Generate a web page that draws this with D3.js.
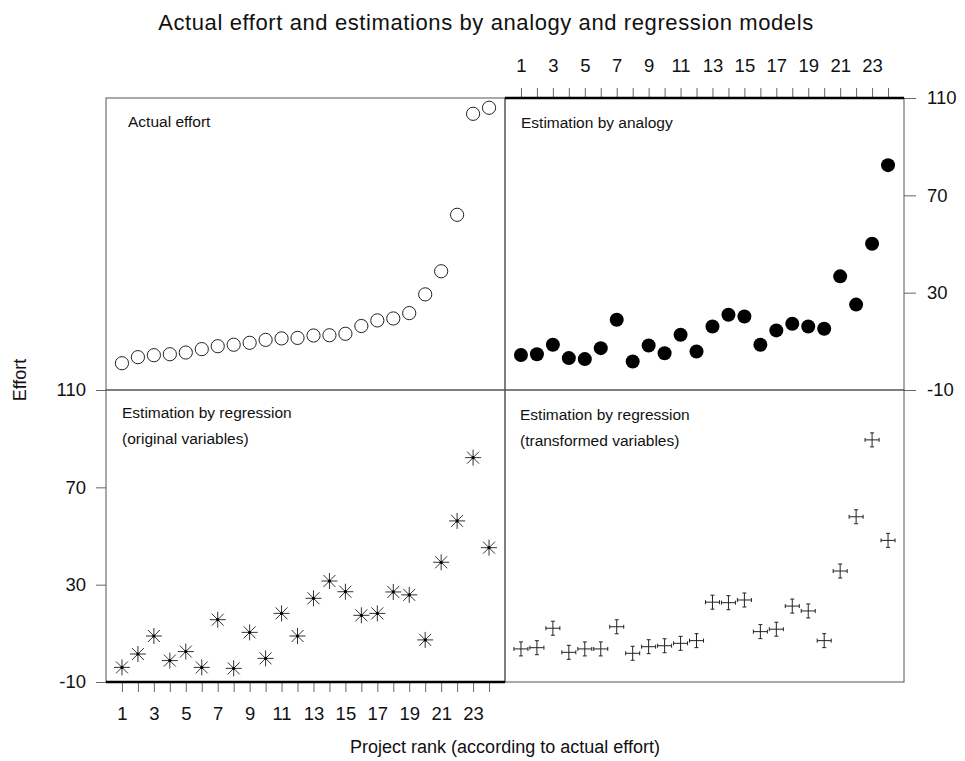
<!DOCTYPE html>
<html>
<head>
<meta charset="utf-8">
<script src="https://cdn.jsdelivr.net/npm/d3@7"></script>
<style>
  html, body { margin: 0; padding: 0; background: #fff; }
  svg { display: block; font-family: "Liberation Sans", Arial, sans-serif; }
  .tick text { font-family: "Liberation Sans", Arial, sans-serif; }
</style>
</head>
<body>
<svg id="chart" width="965" height="761"></svg>
<script>
// Project ranks 1..24 (ordered by actual effort)
const ranks = d3.range(1, 25);

// Effort values per project, one array per panel
const actualEffort = [1.0, 3.5, 4.3, 4.7, 5.4, 6.8, 8.0, 8.6, 9.4, 10.6, 11.2, 11.4,
  12.4, 12.5, 13.1, 16.3, 18.6, 19.4, 21.6, 29.3, 38.8, 62.0, 103.5, 106.0];
const analogyEstimate = [4.4, 4.7, 8.6, 3.1, 2.7, 7.2, 18.9, 1.7, 8.3, 5.1, 12.7, 5.8,
  16.1, 20.9, 20.2, 8.6, 14.5, 17.2, 16.1, 15.2, 36.7, 25.1, 50.1, 82.4];
const regressionOriginal = [-4.0, 1.5, 8.9, -1.2, 2.5, -4.0, 15.6, -4.4, 10.4, -0.3, 18.2, 8.9,
  24.4, 31.5, 27.1, 17.4, 18.2, 27.0, 25.8, 7.3, 39.2, 56.2, 82.2, 45.2];
const regressionTransformed = [3.6, 4.1, 12.1, 2.2, 3.6, 3.6, 12.7, 1.8, 4.5, 4.9, 5.9, 7.0,
  22.8, 22.6, 23.7, 10.7, 11.7, 21.2, 19.2, 7.0, 35.6, 57.9, 89.5, 48.2];

// Axis ticks
const yTicks = [-10, 30, 70, 110];
const xTicks = ranks;

// Text
const titleText = "Actual effort and estimations by analogy and regression models";
const xTitle = "Project rank (according to actual effort)";
const yTitle = "Effort";

const svg = d3.select("#chart");

// Panel grid
const colX = [106, 505, 904];
const rowY = [98, 390, 682];

const xLeft = d3.scaleLinear().domain([0, 25]).range([colX[0], colX[1]]);
const xRight = d3.scaleLinear().domain([0, 25]).range([colX[1], colX[2]]);
const yTop = d3.scaleLinear().domain([-10, 110]).range([rowY[1], rowY[0]]);
const yBottom = d3.scaleLinear().domain([-10, 110]).range([rowY[2], rowY[1]]);

const panels = [
  { x: xLeft, y: yTop, data: actualEffort, kind: "open", label: ["Actual effort"], lx: 128, ly: 122 },
  { x: xRight, y: yTop, data: analogyEstimate, kind: "filled", label: ["Estimation by analogy"], lx: 521, ly: 123 },
  { x: xLeft, y: yBottom, data: regressionOriginal, kind: "star", label: ["Estimation by regression", "(original variables)"], lx: 122, ly: 413 },
  { x: xRight, y: yBottom, data: regressionTransformed, kind: "cross", label: ["Estimation by regression", "(transformed variables)"], lx: 520, ly: 415 }
];

const ink = "#111";
const frame = "#555";

// Axes (drawn first so panel frames sit on top of the tick roots)
function styleAxis(g, size) {
  g.select(".domain").remove();
  g.selectAll(".tick line").attr("stroke", "#666").attr("stroke-width", 1);
  g.selectAll(".tick text").attr("fill", "#111").style("font-size", size + "px");
}
const fmtOdd = d => (d % 2 === 1 ? String(d) : "");
const fmtPlain = d => String(d);

svg.append("g")
  .attr("transform", `translate(0,${rowY[2]})`)
  .call(d3.axisBottom(xLeft).tickValues(xTicks).tickFormat(fmtOdd).tickSize(10).tickPadding(15))
  .call(g => styleAxis(g, 18.5));

svg.append("g")
  .attr("transform", `translate(0,${rowY[0]})`)
  .call(d3.axisTop(xRight).tickValues(xTicks).tickFormat(fmtOdd).tickSize(10).tickPadding(16))
  .call(g => styleAxis(g, 18.5));

svg.append("g")
  .attr("transform", `translate(${colX[0]},0)`)
  .call(d3.axisLeft(yBottom).tickValues(yTicks).tickFormat(fmtPlain).tickSize(10).tickPadding(10))
  .call(g => styleAxis(g, 18.5));

svg.append("g")
  .attr("transform", `translate(${colX[2]},0)`)
  .call(d3.axisRight(yTop).tickValues(yTicks).tickFormat(fmtPlain).tickSize(12).tickPadding(11))
  .call(g => styleAxis(g, 18.5));

// Panel frames
[[0, 0], [1, 0], [0, 1], [1, 1]].forEach(([c, r]) => {
  svg.append("rect")
    .attr("x", colX[c]).attr("y", rowY[r])
    .attr("width", colX[c + 1] - colX[c]).attr("height", rowY[r + 1] - rowY[r])
    .attr("fill", "none").attr("stroke", frame).attr("stroke-width", 1);
});

// Heavy axis lines on the sides carrying the rank axes
svg.append("line").attr("x1", colX[0]).attr("x2", colX[1]).attr("y1", rowY[2]).attr("y2", rowY[2])
  .attr("stroke", "#000").attr("stroke-width", 2.5);
svg.append("line").attr("x1", colX[1]).attr("x2", colX[2]).attr("y1", rowY[0]).attr("y2", rowY[0])
  .attr("stroke", "#000").attr("stroke-width", 2.5);

// Markers
panels.forEach(p => {
  const g = svg.append("g");
  const pts = ranks.map((r, i) => [p.x(r), p.y(p.data[i])]);
  if (p.kind === "open") {
    g.selectAll("circle").data(pts).join("circle")
      .attr("cx", d => d[0]).attr("cy", d => d[1]).attr("r", 6.6)
      .attr("fill", "none").attr("stroke", "#222").attr("stroke-width", 1);
  } else if (p.kind === "filled") {
    g.selectAll("circle").data(pts).join("circle")
      .attr("cx", d => d[0]).attr("cy", d => d[1]).attr("r", 7)
      .attr("fill", "#000");
  } else if (p.kind === "star") {
    const s = 8, t = 6;
    g.selectAll("path").data(pts).join("path")
      .attr("d", ([x, y]) =>
        `M${x - s},${y}H${x + s}M${x},${y - s}V${y + s}` +
        `M${x - t},${y - t}L${x + t},${y + t}M${x - t},${y + t}L${x + t},${y - t}`)
      .attr("fill", "none").attr("stroke", "#333").attr("stroke-width", 1);
    g.selectAll("circle").data(pts).join("circle")
      .attr("cx", d => d[0]).attr("cy", d => d[1]).attr("r", 1.6).attr("fill", "#000");
  } else {
    const s = 7, c = 2;
    g.selectAll("path").data(pts).join("path")
      .attr("d", ([x, y]) =>
        `M${x - s},${y}H${x + s}M${x},${y - s}V${y + s}` +
        `M${x - s},${y - c}V${y + c}M${x + s},${y - c}V${y + c}` +
        `M${x - c},${y - s}H${x + c}M${x - c},${y + s}H${x + c}`)
      .attr("fill", "none").attr("stroke", "#222").attr("stroke-width", 1);
  }
  // Panel label
  const t = svg.append("text")
    .attr("x", p.lx).attr("y", p.ly)
    .attr("fill", ink).style("font-size", "15.5px");
  p.label.forEach((line, i) => {
    t.append("tspan").attr("x", p.lx).attr("y", p.ly + i * 26).attr("dy", "0.35em").text(line);
  });
});

// Titles
svg.append("text").attr("x", 486).attr("y", 22).attr("dy", "0.35em")
  .attr("text-anchor", "middle").style("font-size", "22px").style("letter-spacing", "0.6px")
  .attr("fill", ink).text(titleText);
svg.append("text").attr("x", 505).attr("y", 747).attr("dy", "0.35em")
  .attr("text-anchor", "middle").style("font-size", "18px").attr("fill", ink).text(xTitle);
svg.append("text").attr("transform", "translate(20,380) rotate(-90)").attr("dy", "0.35em")
  .attr("text-anchor", "middle").style("font-size", "18px").attr("fill", ink).text(yTitle);
</script>
</body>
</html>
